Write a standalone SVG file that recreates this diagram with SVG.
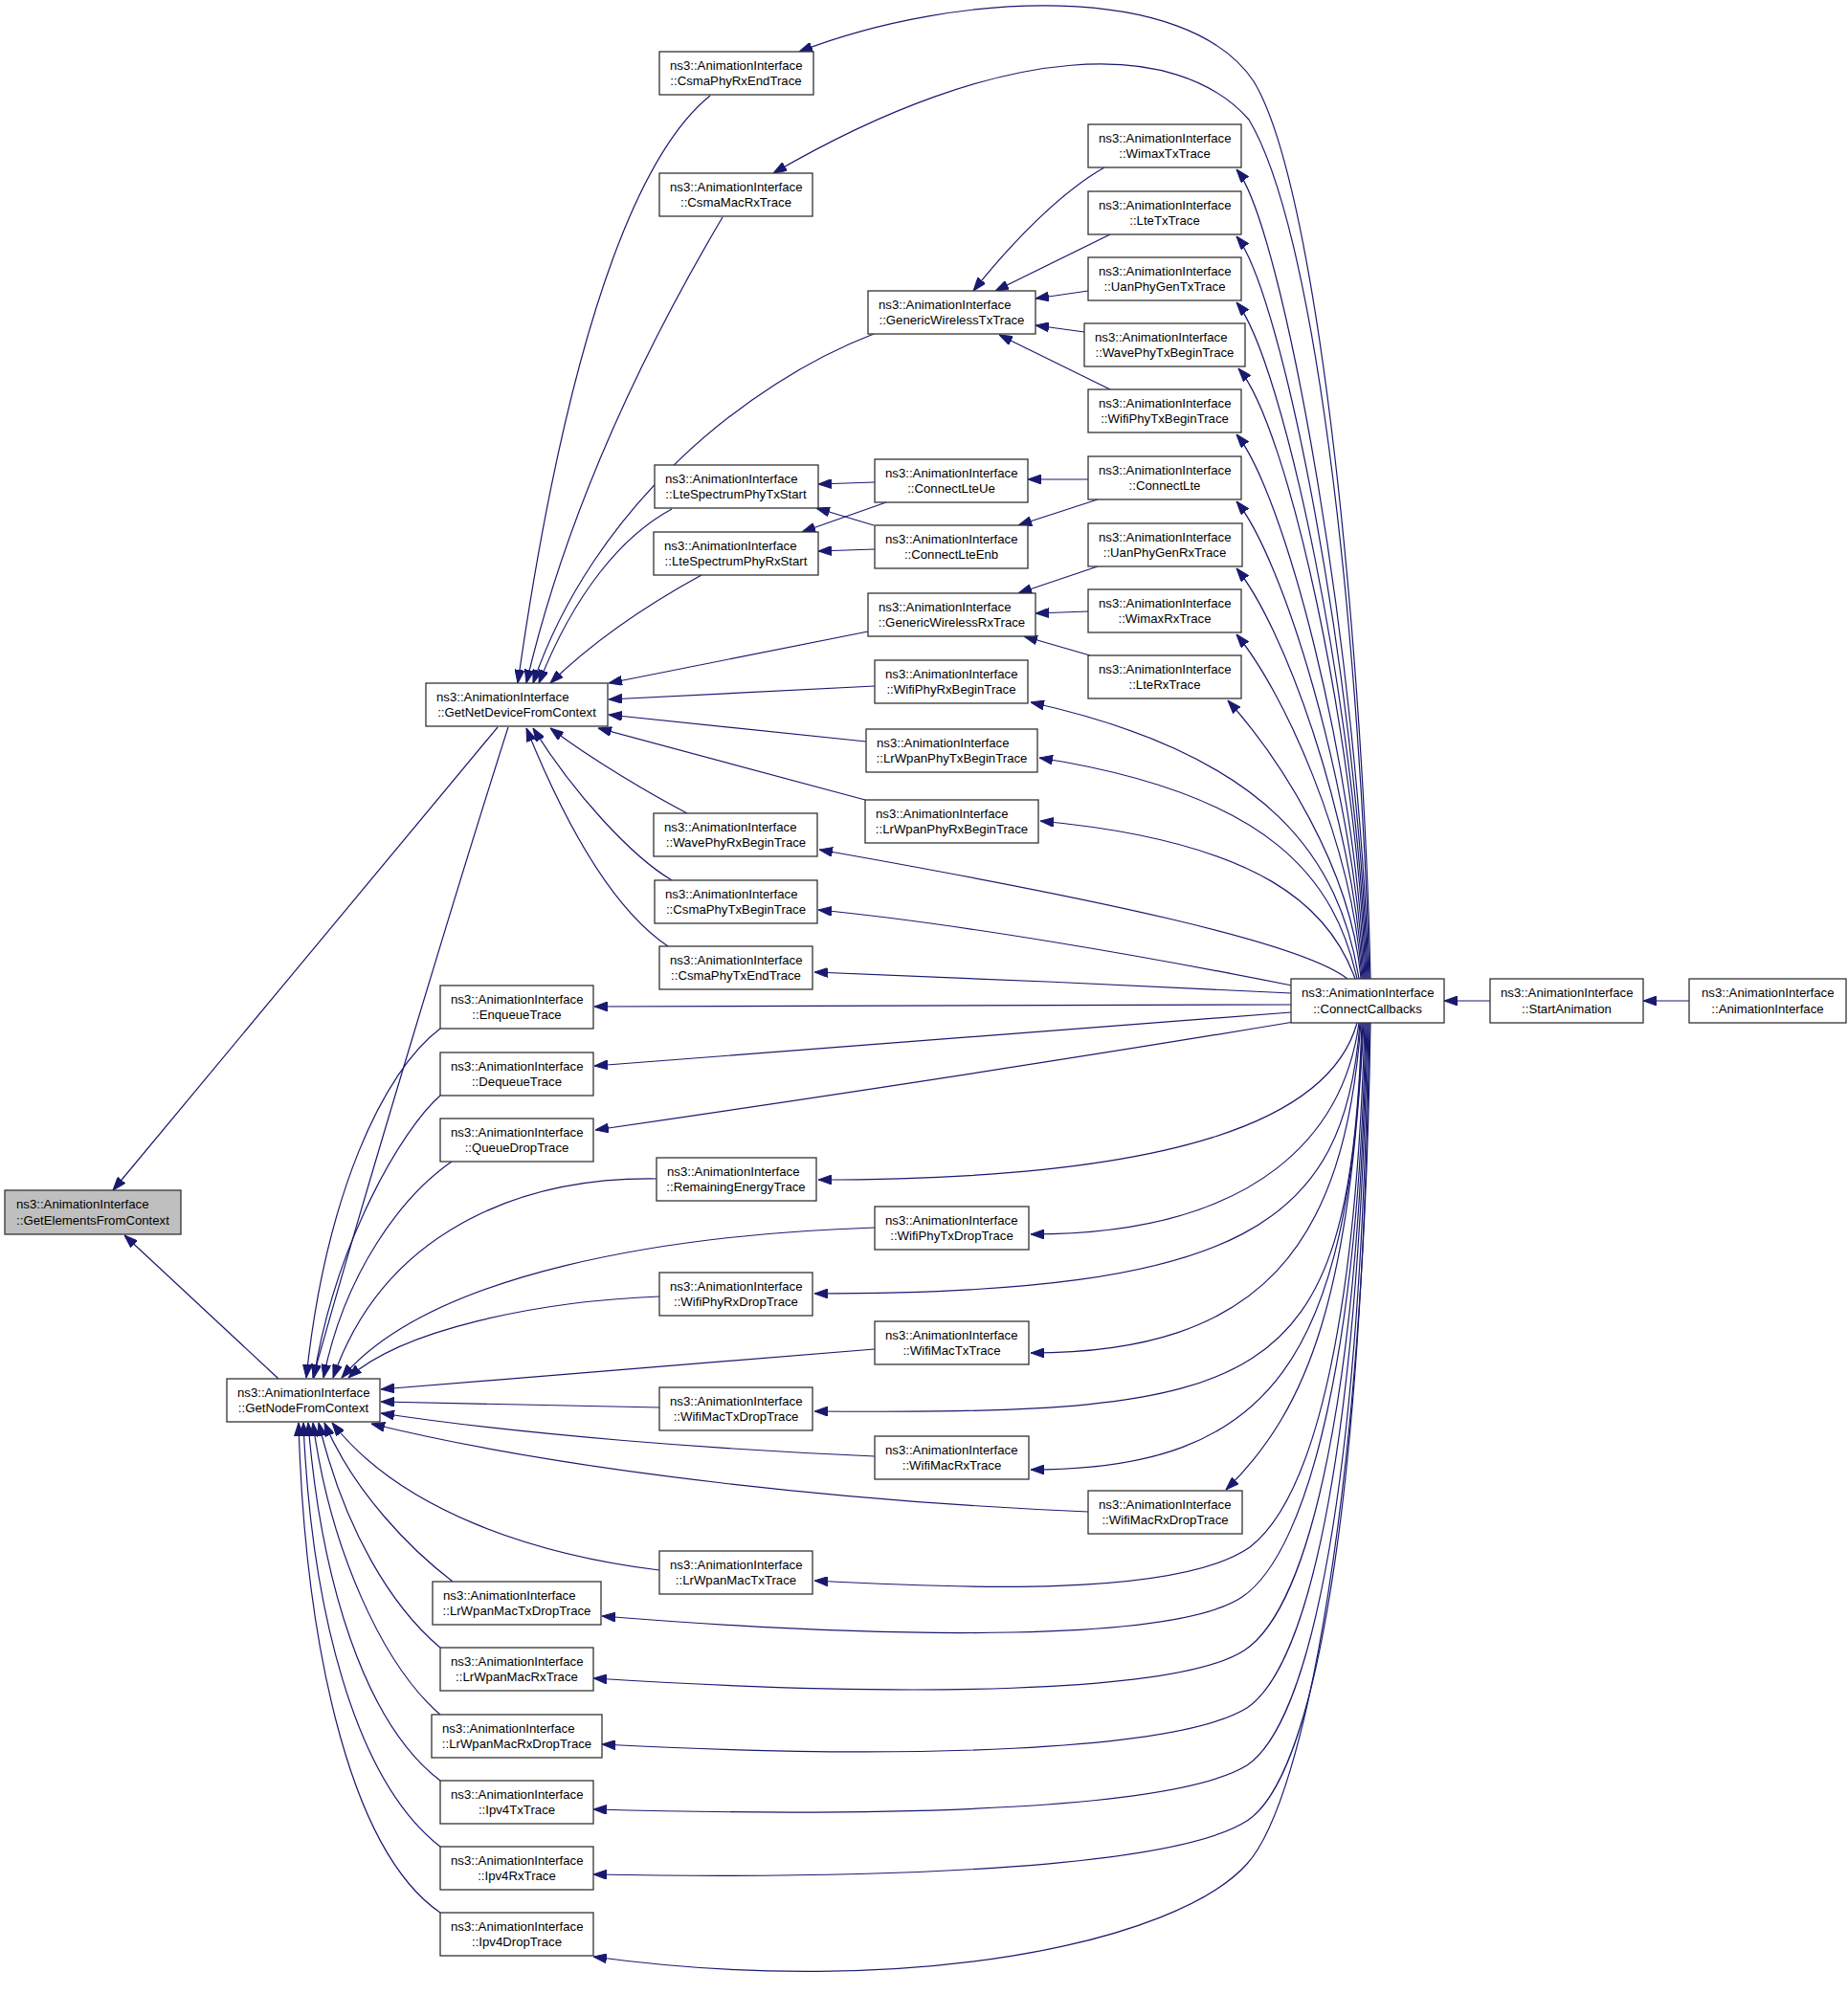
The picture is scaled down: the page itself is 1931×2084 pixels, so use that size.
<svg xmlns="http://www.w3.org/2000/svg" width="1931" height="2084" viewBox="0 0 1931 2084">
<style>
.n rect{fill:#fff;stroke:#333;stroke-width:1.3}
.n.sel rect{fill:#bfbfbf}
.n text{font-family:"Liberation Sans",Arial,sans-serif;font-size:13.2px;fill:#000}
.e path{fill:none;stroke:#191970;stroke-width:1.2;marker-end:url(#ah)}
</style>
<defs>
<marker id="ah" viewBox="0 0 14 10" refX="14" refY="5" markerWidth="14" markerHeight="10" markerUnits="userSpaceOnUse" orient="auto">
<path d="M0,0 L14,5 L0,10 z" fill="#191970" stroke="#191970" stroke-width="1"/>
</marker>
</defs>
<rect width="1931" height="2084" fill="#fff"/>
<g id="edges" class="e">
<path d="M520,760 L118,1244"/>
<path d="M291,1441 L130,1291"/>
<path d="M531,760 C480,920 380,1250 327,1440"/>
<path d="M742,100 C680,150 600,300 541,714"/>
<path d="M755,227 C700,320 600,500 550,714"/>
<path d="M913,349 C780,400 620,530 557,714"/>
<path d="M702,532 C650,560 600,620 563,714"/>
<path d="M733,601 C680,630 620,670 575,714"/>
<path d="M907,660 L636,714"/>
<path d="M914,717 L636,731"/>
<path d="M905,775 L636,747"/>
<path d="M904,836 L625,761"/>
<path d="M718,850 C680,830 620,795 575,761"/>
<path d="M702,920 C660,895 600,830 557,761"/>
<path d="M698,989 C640,950 590,860 550,761"/>
<path d="M460,1075 C400,1120 340,1250 320,1440"/>
<path d="M460,1145 C420,1180 350,1300 328,1440"/>
<path d="M472,1214 C420,1250 360,1330 338,1440"/>
<path d="M686,1232 C540,1230 400,1290 348,1440"/>
<path d="M914,1283 C700,1290 450,1330 357,1440"/>
<path d="M689,1355 C560,1360 420,1390 364,1440"/>
<path d="M914,1410 L398,1452"/>
<path d="M689,1471 L398,1465"/>
<path d="M914,1522 C750,1515 550,1500 398,1477"/>
<path d="M1137,1580 C900,1570 600,1540 388,1488"/>
<path d="M689,1641 C560,1625 420,1580 347,1487"/>
<path d="M473,1653 C430,1620 370,1560 339,1487"/>
<path d="M460,1722 C410,1680 360,1600 333,1487"/>
<path d="M460,1792 C400,1740 345,1620 327,1487"/>
<path d="M460,1861 C380,1800 335,1650 322,1487"/>
<path d="M460,1930 C370,1860 325,1680 317,1487"/>
<path d="M460,1999 C360,1930 318,1700 312,1487"/>
<path d="M1154,175 C1110,200 1060,250 1017,304"/>
<path d="M1160,245 L1040,304"/>
<path d="M1137,304 L1082,312"/>
<path d="M1133,347 L1082,340"/>
<path d="M1160,407 L1044,350"/>
<path d="M1137,501 L1074,501"/>
<path d="M1147,522 L1064,549"/>
<path d="M1147,592 L1064,620"/>
<path d="M1137,639 L1082,641"/>
<path d="M1139,685 L1070,665"/>
<path d="M914,504 L855,506"/>
<path d="M926,525 L838,556"/>
<path d="M913,549 L853,531"/>
<path d="M914,574 L855,576"/>
<path d="M1432,1023 C1425,700 1380,200 1310,85 C1240,-20 1000,-10 835,54"/>
<path d="M1431,1023 C1422,700 1380,250 1305,125 C1230,40 1050,40 808,181"/>
<path d="M1430,1023 C1420,684 1340,235 1292,177"/>
<path d="M1429,1023 C1419,712 1340,305 1292,247"/>
<path d="M1428,1023 C1418,739 1340,374 1292,316"/>
<path d="M1427,1023 C1417,767 1345,443 1294,385"/>
<path d="M1426,1023 C1416,795 1340,512 1292,454"/>
<path d="M1425,1023 C1415,823 1340,582 1292,524"/>
<path d="M1424,1023 C1414,851 1340,652 1292,594"/>
<path d="M1423,1023 C1413,878 1340,721 1292,663"/>
<path d="M1422,1023 C1412,906 1335,790 1283,732"/>
<path d="M1420,1023 C1400,900 1330,790 1077,734"/>
<path d="M1418,1023 C1395,920 1330,830 1086,792"/>
<path d="M1416,1023 C1390,950 1320,880 1087,858"/>
<path d="M1408,1023 C1360,985 1150,940 856,888"/>
<path d="M1350,1030 C1200,1000 1000,965 855,951"/>
<path d="M1349,1038 C1200,1030 1000,1022 851,1016"/>
<path d="M1349,1050 L621,1052"/>
<path d="M1349,1058 L621,1114"/>
<path d="M1352,1068 C1100,1110 800,1155 622,1181"/>
<path d="M1418,1069 C1390,1170 1230,1233 855,1233"/>
<path d="M1420,1069 C1405,1180 1320,1290 1077,1290"/>
<path d="M1421,1069 C1405,1280 1300,1352 851,1352"/>
<path d="M1422,1069 C1405,1300 1320,1414 1077,1414"/>
<path d="M1423,1069 C1410,1460 1320,1478 851,1475"/>
<path d="M1424,1069 C1410,1420 1330,1536 1077,1536"/>
<path d="M1425,1069 C1410,1350 1370,1470 1281,1557"/>
<path d="M1426,1069 C1418,1350 1380,1560 1306,1617 C1230,1670 1000,1660 851,1652"/>
<path d="M1427,1069 C1420,1400 1370,1620 1298,1669 C1230,1715 950,1715 629,1689"/>
<path d="M1428,1069 C1420,1450 1370,1680 1300,1725 C1230,1770 950,1775 620,1754"/>
<path d="M1429,1069 C1420,1500 1370,1740 1303,1785 C1230,1830 950,1840 629,1823"/>
<path d="M1430,1069 C1422,1550 1370,1800 1303,1845 C1230,1890 950,1900 620,1891"/>
<path d="M1431,1069 C1423,1600 1370,1860 1303,1903 C1230,1950 950,1965 620,1959"/>
<path d="M1432,1069 C1425,1550 1365,1880 1303,1948 C1230,2030 950,2090 620,2045"/>
<path d="M1557,1046 L1509,1046"/>
<path d="M1765,1046 L1717,1046"/>
</g>
<g id="n_getelements" class="n sel"><rect x="5" y="1244" width="184" height="46"/><text x="17" y="1263">ns3::AnimationInterface</text><text x="97" y="1280" text-anchor="middle">::GetElementsFromContext</text></g>
<g id="n_getnetdevice" class="n"><rect x="445" y="714" width="190" height="45"/><text x="456" y="733">ns3::AnimationInterface</text><text x="540" y="749" text-anchor="middle">::GetNetDeviceFromContext</text></g>
<g id="n_getnode" class="n"><rect x="237" y="1441" width="160" height="45"/><text x="248" y="1460">ns3::AnimationInterface</text><text x="317" y="1476" text-anchor="middle">::GetNodeFromContext</text></g>
<g id="n_enqueue" class="n"><rect x="460" y="1030" width="160" height="45"/><text x="471" y="1049">ns3::AnimationInterface</text><text x="540" y="1065" text-anchor="middle">::EnqueueTrace</text></g>
<g id="n_dequeue" class="n"><rect x="460" y="1100" width="160" height="45"/><text x="471" y="1119">ns3::AnimationInterface</text><text x="540" y="1135" text-anchor="middle">::DequeueTrace</text></g>
<g id="n_queuedrop" class="n"><rect x="460" y="1169" width="160" height="45"/><text x="471" y="1188">ns3::AnimationInterface</text><text x="540" y="1204" text-anchor="middle">::QueueDropTrace</text></g>
<g id="n_lrwpanmactxdrop" class="n"><rect x="452" y="1653" width="176" height="45"/><text x="463" y="1672">ns3::AnimationInterface</text><text x="540" y="1688" text-anchor="middle">::LrWpanMacTxDropTrace</text></g>
<g id="n_lrwpanmacrx" class="n"><rect x="460" y="1722" width="160" height="45"/><text x="471" y="1741">ns3::AnimationInterface</text><text x="540" y="1757" text-anchor="middle">::LrWpanMacRxTrace</text></g>
<g id="n_lrwpanmacrxdrop" class="n"><rect x="451" y="1792" width="178" height="45"/><text x="462" y="1811">ns3::AnimationInterface</text><text x="540" y="1827" text-anchor="middle">::LrWpanMacRxDropTrace</text></g>
<g id="n_ipv4tx" class="n"><rect x="460" y="1861" width="160" height="45"/><text x="471" y="1880">ns3::AnimationInterface</text><text x="540" y="1896" text-anchor="middle">::Ipv4TxTrace</text></g>
<g id="n_ipv4rx" class="n"><rect x="460" y="1930" width="160" height="45"/><text x="471" y="1949">ns3::AnimationInterface</text><text x="540" y="1965" text-anchor="middle">::Ipv4RxTrace</text></g>
<g id="n_ipv4drop" class="n"><rect x="460" y="1999" width="160" height="45"/><text x="471" y="2018">ns3::AnimationInterface</text><text x="540" y="2034" text-anchor="middle">::Ipv4DropTrace</text></g>
<g id="n_csmaphyrxend" class="n"><rect x="689" y="54" width="161" height="45"/><text x="700" y="73">ns3::AnimationInterface</text><text x="769" y="89" text-anchor="middle">::CsmaPhyRxEndTrace</text></g>
<g id="n_csmamacrx" class="n"><rect x="689" y="181" width="160" height="45"/><text x="700" y="200">ns3::AnimationInterface</text><text x="769" y="216" text-anchor="middle">::CsmaMacRxTrace</text></g>
<g id="n_ltespectx" class="n"><rect x="684" y="486" width="171" height="45"/><text x="695" y="505">ns3::AnimationInterface</text><text x="769" y="521" text-anchor="middle">::LteSpectrumPhyTxStart</text></g>
<g id="n_ltespecrx" class="n"><rect x="683" y="556" width="172" height="45"/><text x="694" y="575">ns3::AnimationInterface</text><text x="769" y="591" text-anchor="middle">::LteSpectrumPhyRxStart</text></g>
<g id="n_wavephyrx" class="n"><rect x="683" y="850" width="171" height="45"/><text x="694" y="869">ns3::AnimationInterface</text><text x="769" y="885" text-anchor="middle">::WavePhyRxBeginTrace</text></g>
<g id="n_csmaphytxbegin" class="n"><rect x="684" y="920" width="170" height="45"/><text x="695" y="939">ns3::AnimationInterface</text><text x="769" y="955" text-anchor="middle">::CsmaPhyTxBeginTrace</text></g>
<g id="n_csmaphytxend" class="n"><rect x="689" y="989" width="160" height="45"/><text x="700" y="1008">ns3::AnimationInterface</text><text x="769" y="1024" text-anchor="middle">::CsmaPhyTxEndTrace</text></g>
<g id="n_remainingenergy" class="n"><rect x="686" y="1210" width="167" height="45"/><text x="697" y="1229">ns3::AnimationInterface</text><text x="769" y="1245" text-anchor="middle">::RemainingEnergyTrace</text></g>
<g id="n_wifiphyrxdrop" class="n"><rect x="689" y="1330" width="160" height="45"/><text x="700" y="1349">ns3::AnimationInterface</text><text x="769" y="1365" text-anchor="middle">::WifiPhyRxDropTrace</text></g>
<g id="n_wifimactxdrop" class="n"><rect x="689" y="1450" width="160" height="45"/><text x="700" y="1469">ns3::AnimationInterface</text><text x="769" y="1485" text-anchor="middle">::WifiMacTxDropTrace</text></g>
<g id="n_lrwpanmactx" class="n"><rect x="689" y="1621" width="160" height="45"/><text x="700" y="1640">ns3::AnimationInterface</text><text x="769" y="1656" text-anchor="middle">::LrWpanMacTxTrace</text></g>
<g id="n_gwtx" class="n"><rect x="907" y="304" width="175" height="45"/><text x="918" y="323">ns3::AnimationInterface</text><text x="994.5" y="339" text-anchor="middle">::GenericWirelessTxTrace</text></g>
<g id="n_connectlteue" class="n"><rect x="914" y="480" width="160" height="45"/><text x="925" y="499">ns3::AnimationInterface</text><text x="994" y="515" text-anchor="middle">::ConnectLteUe</text></g>
<g id="n_connectlteenb" class="n"><rect x="914" y="549" width="160" height="45"/><text x="925" y="568">ns3::AnimationInterface</text><text x="994" y="584" text-anchor="middle">::ConnectLteEnb</text></g>
<g id="n_gwrx" class="n"><rect x="907" y="620" width="175" height="45"/><text x="918" y="639">ns3::AnimationInterface</text><text x="994.5" y="655" text-anchor="middle">::GenericWirelessRxTrace</text></g>
<g id="n_wifiphyrxbegin" class="n"><rect x="914" y="690" width="160" height="45"/><text x="925" y="709">ns3::AnimationInterface</text><text x="994" y="725" text-anchor="middle">::WifiPhyRxBeginTrace</text></g>
<g id="n_lrwpanphytx" class="n"><rect x="905" y="762" width="179" height="45"/><text x="916" y="781">ns3::AnimationInterface</text><text x="994.5" y="797" text-anchor="middle">::LrWpanPhyTxBeginTrace</text></g>
<g id="n_lrwpanphyrx" class="n"><rect x="904" y="836" width="181" height="45"/><text x="915" y="855">ns3::AnimationInterface</text><text x="994.5" y="871" text-anchor="middle">::LrWpanPhyRxBeginTrace</text></g>
<g id="n_wifiphytxdrop" class="n"><rect x="914" y="1261" width="161" height="45"/><text x="925" y="1280">ns3::AnimationInterface</text><text x="994.5" y="1296" text-anchor="middle">::WifiPhyTxDropTrace</text></g>
<g id="n_wifimactx" class="n"><rect x="914" y="1381" width="161" height="45"/><text x="925" y="1400">ns3::AnimationInterface</text><text x="994.5" y="1416" text-anchor="middle">::WifiMacTxTrace</text></g>
<g id="n_wifimacrx" class="n"><rect x="914" y="1501" width="161" height="45"/><text x="925" y="1520">ns3::AnimationInterface</text><text x="994.5" y="1536" text-anchor="middle">::WifiMacRxTrace</text></g>
<g id="n_wimaxtx" class="n"><rect x="1137" y="130" width="160" height="45"/><text x="1148" y="149">ns3::AnimationInterface</text><text x="1217" y="165" text-anchor="middle">::WimaxTxTrace</text></g>
<g id="n_ltetx" class="n"><rect x="1137" y="200" width="160" height="45"/><text x="1148" y="219">ns3::AnimationInterface</text><text x="1217" y="235" text-anchor="middle">::LteTxTrace</text></g>
<g id="n_uanphygentx" class="n"><rect x="1137" y="269" width="160" height="45"/><text x="1148" y="288">ns3::AnimationInterface</text><text x="1217" y="304" text-anchor="middle">::UanPhyGenTxTrace</text></g>
<g id="n_wavephytx" class="n"><rect x="1133" y="338" width="168" height="45"/><text x="1144" y="357">ns3::AnimationInterface</text><text x="1217" y="373" text-anchor="middle">::WavePhyTxBeginTrace</text></g>
<g id="n_wifiphytxbegin" class="n"><rect x="1137" y="407" width="160" height="45"/><text x="1148" y="426">ns3::AnimationInterface</text><text x="1217" y="442" text-anchor="middle">::WifiPhyTxBeginTrace</text></g>
<g id="n_connectlte" class="n"><rect x="1137" y="477" width="160" height="45"/><text x="1148" y="496">ns3::AnimationInterface</text><text x="1217" y="512" text-anchor="middle">::ConnectLte</text></g>
<g id="n_uanphygenrx" class="n"><rect x="1137" y="547" width="161" height="45"/><text x="1148" y="566">ns3::AnimationInterface</text><text x="1217" y="582" text-anchor="middle">::UanPhyGenRxTrace</text></g>
<g id="n_wimaxrx" class="n"><rect x="1137" y="616" width="160" height="45"/><text x="1148" y="635">ns3::AnimationInterface</text><text x="1217" y="651" text-anchor="middle">::WimaxRxTrace</text></g>
<g id="n_lterx" class="n"><rect x="1137" y="685" width="160" height="45"/><text x="1148" y="704">ns3::AnimationInterface</text><text x="1217" y="720" text-anchor="middle">::LteRxTrace</text></g>
<g id="n_wifimacrxdrop" class="n"><rect x="1137" y="1558" width="161" height="45"/><text x="1148" y="1577">ns3::AnimationInterface</text><text x="1217.5" y="1593" text-anchor="middle">::WifiMacRxDropTrace</text></g>
<g id="n_connectcallbacks" class="n"><rect x="1349" y="1023" width="160" height="46"/><text x="1360" y="1042">ns3::AnimationInterface</text><text x="1429" y="1059" text-anchor="middle">::ConnectCallbacks</text></g>
<g id="n_startanimation" class="n"><rect x="1557" y="1023" width="160" height="46"/><text x="1568" y="1042">ns3::AnimationInterface</text><text x="1637" y="1059" text-anchor="middle">::StartAnimation</text></g>
<g id="n_animationinterface" class="n"><rect x="1765" y="1023" width="164" height="46"/><text x="1778" y="1042">ns3::AnimationInterface</text><text x="1847" y="1059" text-anchor="middle">::AnimationInterface</text></g>
</svg>
